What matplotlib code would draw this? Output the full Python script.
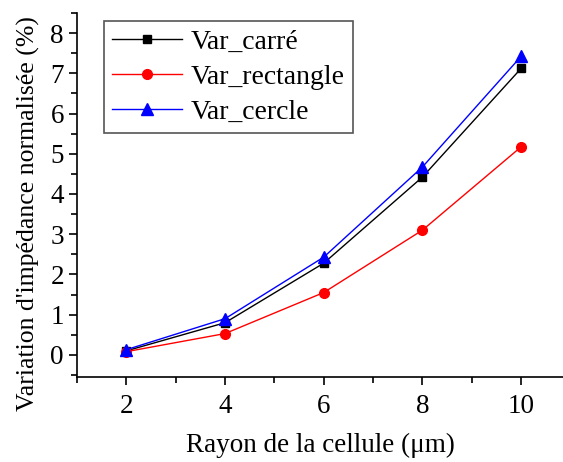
import matplotlib
matplotlib.use('Agg')
import matplotlib.pyplot as plt
from matplotlib.ticker import MultipleLocator

plt.rcParams['font.family'] = ['Liberation Serif', 'DejaVu Serif']

rayon = [2, 4, 6, 8, 10]
var_carre = [0.10, 0.80, 2.28, 4.42, 7.12]
var_rectangle = [0.08, 0.53, 1.55, 3.10, 5.17]
var_cercle = [0.13, 0.90, 2.43, 4.67, 7.42]

fig = plt.figure(figsize=(5.63, 4.62), dpi=100)
ax = fig.add_axes([0.137, 0.184, 0.863, 0.788])

ax.plot(rayon, var_carre, color='black', marker='s', markersize=6, linewidth=1, label='Var_carré')
ax.plot(rayon, var_rectangle, color='red', marker='o', markersize=7, linewidth=1, label='Var_rectangle')
ax.plot(rayon, var_cercle, color='blue', marker='^', markersize=8, linewidth=1, label='Var_cercle')

ax.set_xlim(1.0, 10.85)
ax.set_ylim(-0.55, 8.5)
ax.xaxis.set_major_locator(MultipleLocator(2))
ax.xaxis.set_minor_locator(MultipleLocator(1))
ax.yaxis.set_major_locator(MultipleLocator(1))
ax.yaxis.set_minor_locator(MultipleLocator(0.5))
ax.spines['top'].set_visible(False)
ax.spines['right'].set_visible(False)
for s in ['left', 'bottom']:
    ax.spines[s].set_linewidth(1.2)
ax.tick_params(which='major', direction='out', length=6, width=1.2, labelsize=19.5)
ax.tick_params(axis='x', which='major', pad=6)
ax.tick_params(which='minor', direction='out', length=4, width=1.2)

ax.set_xlabel('Rayon de la cellule (μm)', fontsize=19.5, labelpad=10)
ax.set_ylabel("Variation d'impédance normalisée (%)", fontsize=18.5)
ax.yaxis.set_label_coords(-0.076, 0.45)

leg = ax.legend(loc='upper left', bbox_to_anchor=(0.027, 1.017), fontsize=20, fancybox=False,
                framealpha=1, edgecolor='#555555', handlelength=2.5, borderpad=0.3,
                labelspacing=0.35, handletextpad=0.3)
leg.get_frame().set_linewidth(1.2)

plt.savefig('out.png', dpi=100)
